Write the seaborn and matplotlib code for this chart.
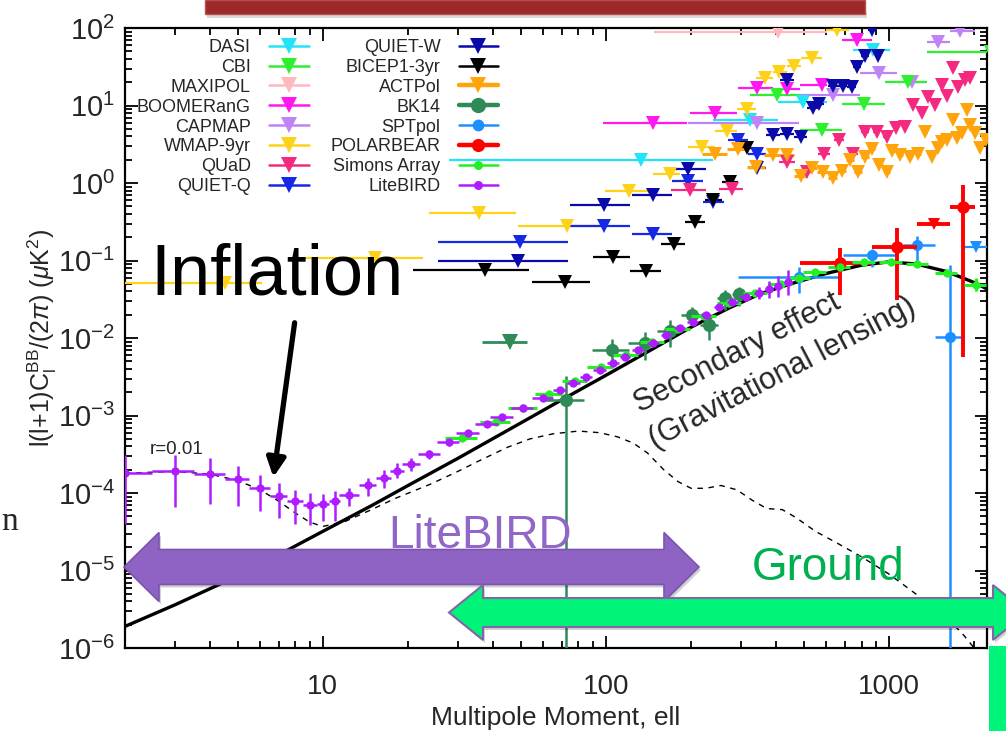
import numpy as np
import pandas as pd
import matplotlib
matplotlib.use("Agg")
import matplotlib.pyplot as plt
import seaborn as sns
from matplotlib.patches import Polygon, Rectangle, FancyArrowPatch
from matplotlib.lines import Line2D
from matplotlib.ticker import FixedLocator, FixedFormatter, NullFormatter, LogLocator, LogFormatterMathtext

# ---------------- data ----------------
# theory: lensing B-mode (solid) and primordial r=0.01 (dashed)
lens_ell = [2, 3, 5, 7, 10, 15, 20, 30, 50, 70, 100, 150, 200, 270, 350, 450, 600, 800, 1000, 1250, 1600, 2000, 2220]
lens_val = [1.9e-6, 3.6e-6, 8.5e-6, 1.6e-5, 3.2e-5, 7.0e-5, 1.25e-4, 2.8e-4, 8e-4, 1.6e-3, 3.3e-3, 7.6e-3,
            1.38e-2, 2.4e-2, 3.7e-2, 5.0e-2, 6.8e-2, 8.7e-2, 9.6e-2, 9.0e-2, 7.2e-2, 5.2e-2, 4.3e-2]
tens_ell = [2, 3, 4, 5, 6, 7, 8, 9, 10, 12, 15, 18, 24, 30, 36, 45, 54, 65, 80, 95, 110, 125, 140, 160, 180,
            200, 225, 255, 290, 330, 370, 420, 470, 550, 650, 800, 1000, 1200, 1500, 1800, 2000, 2220]
tens_val = [1.8e-4, 1.9e-4, 1.75e-4, 1.45e-4, 1.1e-4, 7.8e-5, 5.5e-5, 4.2e-5, 3.7e-5, 4.3e-5, 6.2e-5, 8.5e-5,
            1.3e-4, 1.9e-4, 2.65e-4, 3.9e-4, 5.0e-4, 5.8e-4, 6.3e-4, 6.0e-4, 5.3e-4, 4.4e-4, 3.3e-4, 2.0e-4,
            1.4e-4, 1.15e-4, 1.15e-4, 1.25e-4, 1.1e-4, 8e-5, 6.3e-5, 6.1e-5, 4.8e-5, 3.2e-5, 2.3e-5, 1.5e-5,
            9e-6, 5.5e-6, 3.0e-6, 1.6e-6, 1.0e-6, 7e-7]

# upper limits: ell, value, bin low, bin high
dasi_ell = [133, 323, 495, 879]
dasi_val = [2.0, 6.5, 11.2, 52]
dasi_lo = [28, 239, 406, 746]
dasi_hi = [239, 406, 604, 1007]

cbi_ell = [401, 578, 816, 1170, 2300]
cbi_val = [13.6, 4.9, 10.4, 20.3, 49]
cbi_lo = [323, 485, 683, 968, 1361]
cbi_hi = [485, 683, 968, 1361, 3500]

maxipol_ell = [405]
maxipol_val = [90]
maxipol_lo = [148]
maxipol_hi = [604]

boom_ell = [147, 243, 341, 435, 578, 774]
boom_val = [6.0, 7.9, 16.7, 16.2, 18.4, 71]
boom_lo = [98, 198, 292, 389, 485, 683]
boom_hi = [193, 290, 389, 485, 604, 871]

capmap_ell = [341, 632, 925, 1202, 1493, 1782]
capmap_val = [5.9, 13.6, 26, 20.3, 66.5, 92]
capmap_lo = [195, 485, 791, 1067, 1361, 1643]
capmap_hi = [482, 791, 1067, 1340, 1643, 2013]

wmap_ell = [4.5, 15.3, 35.7, 72.6, 121, 169, 218, 267, 314, 365, 409, 461, 533, 653]
wmap_val = [0.051, 0.107, 0.41, 0.28, 0.80, 1.31, 2.9, 4.7, 9.0, 22.4, 27.3, 32.6, 41.4, 94]
wmap_lo = [2, 8.3, 23.7, 48.9, 99, 147, 195, 243, 290, 340, 388, 438, 490, 600]
wmap_hi = [6.1, 22.5, 48, 95, 143, 182, 243, 290, 340, 388, 438, 490, 580, 720]

quad_ell = [198, 278, 438, 512, 589, 667, 748, 822, 905, 982, 1060, 1140, 1218, 1305, 1378, 1452, 1534,
            1599, 1688, 1758, 1857, 1933]
quad_val = [0.81, 0.84, 1.88, 1.40, 2.4, 3.6, 2.4, 4.6, 4.6, 3.95, 5.1, 5.3, 10.1, 7.9, 13, 10.1, 18.4,
            13.2, 30.8, 17.5, 21.3, 22.4]
quad_dl = 28

quietq_ell = [49.7, 98.4, 147, 195, 239, 293, 341]
quietq_val = [0.175, 0.28, 0.22, 1.06, 0.574, 3.6, 2.4]
quietq_lo = [25.5, 74.6, 124, 171, 220, 270, 318]
quietq_hi = [73.5, 121.6, 171, 220, 262, 318, 368]

quietw_ell = [49, 98.4, 147, 195, 341, 388, 438, 438, 488, 537, 566, 635, 686, 738, 774, 822, 869, 916]
quietw_val = [0.10, 0.52, 0.70, 1.5, 1.55, 4.2, 4.3, 21.3, 3.95, 9.2, 10.4, 17.9, 17.9, 17.2, 31.7, 43.5, 94, 43.5]
quietw_lo = [25.5, 74.6, 124, 171, 318, 368, 413, 413, 463, 512, 541, 610, 661, 713, 749, 797, 844, 891]
quietw_hi = [73.5, 121.6, 171, 225, 368, 413, 463, 463, 513, 562, 591, 660, 711, 763, 799, 847, 894, 941]

bicep_ell = [37.3, 71.6, 105.6, 139, 174, 206, 239, 274, 314]
bicep_val = [0.075, 0.053, 0.112, 0.074, 0.163, 0.317, 0.60, 1.04, 2.8]
bicep_lo = [20.8, 55, 90, 122, 156, 191, 224, 258, 295]
bicep_hi = [53.5, 88, 122, 156, 191, 224, 258, 293, 330]

act_ell = [243, 293, 339, 388, 438, 488, 533, 583, 632, 681, 728, 779, 822, 869, 925, 982, 1023, 1093, 1186,
           1269, 1341, 1416, 1493, 1534, 1599, 1688, 1735, 1806, 1884, 1933, 2014, 2099, 2200]
act_val = [2.4, 2.75, 1.62, 2.3, 2.3, 1.24, 1.55, 1.37, 1.15, 1.43, 1.98, 1.40, 2.18, 2.75, 1.71, 1.40, 2.59,
           2.3, 2.18, 2.4, 4.6, 2.18, 2.8, 3.4, 3.6, 6.5, 3.8, 4.4, 8.8, 5.6, 4.4, 2.8, 3.6]
act_dl = 25

bk_ul_ell = [45.8]
bk_ul_val = [0.009]
bk_ul_lo = [36.4]
bk_ul_hi = [52.5]

spt_ul_ell = [2023]
spt_ul_val = [0.15]
spt_ul_lo = [1810]
spt_ul_hi = [2400]

pb_ul_ell = [1445]
pb_ul_val = [0.296]
pb_ul_lo = [1256]
pb_ul_hi = [1643]

# detections: ell, value, y low bound, y high bound, bin low, bin high
bk_ell = [72, 105, 137, 169, 201, 232, 263, 295]
bk_val = [1.6e-3, 6.9e-3, 8.5e-3, 1.24e-2, 2.0e-2, 1.47e-2, 3.25e-2, 3.7e-2]
bk_ylo = [1e-8, 4.5e-3, 5.2e-3, 7.7e-3, 1.5e-2, 9.4e-3, 2.3e-2, 2.6e-2]
bk_yhi = [3.2e-3, 9.7e-3, 1.2e-2, 1.7e-2, 2.5e-2, 1.98e-2, 4.2e-2, 4.6e-2]
bk_lo = [61, 89, 120, 152, 184, 215, 246, 278]
bk_hi = [84, 121, 154, 186, 218, 249, 280, 312]

spt_ell = [482, 869, 1253, 1643]
spt_val = [0.061, 0.118, 0.158, 0.0104]
spt_ylo = [0.038, 0.083, 0.10, 1e-8]
spt_yhi = [0.082, 0.14, 0.21, 0.087]
spt_lo = [292, 687, 1120, 1455]
spt_hi = [671, 1067, 1455, 1810]

pb_ell = [671, 1065, 1832]
pb_val = [0.092, 0.148, 0.485]
pb_ylo = [0.036, 0.031, 0.0057]
pb_yhi = [0.145, 0.26, 0.94]
pb_lo = [485, 871, 1643]
pb_hi = [871, 1256, 2013]

sa_ell = [31, 41, 51, 63, 78, 96, 118, 146, 180, 222, 273, 337, 415, 482, 548, 671, 816, 1014, 1259, 1600, 2028]
sa_val = [5.2e-4, 8.3e-4, 1.24e-3, 1.9e-3, 2.8e-3, 4.2e-3, 6.0e-3, 8.8e-3, 1.3e-2, 1.9e-2, 2.8e-2, 3.8e-2,
          5.0e-2, 5.9e-2, 7.2e-2, 8.3e-2, 9.6e-2, 9.7e-2, 8.9e-2, 7.0e-2, 4.8e-2]
sa_ylo = [4.8e-4, 7.8e-4, 1.18e-3, 1.82e-3, 2.7e-3, 4.05e-3, 5.8e-3, 8.5e-3, 1.25e-2, 1.83e-2, 2.7e-2, 3.65e-2,
          4.8e-2, 5.6e-2, 6.8e-2, 7.9e-2, 9.1e-2, 9.2e-2, 8.4e-2, 6.5e-2, 4.0e-2]
sa_yhi = [5.6e-4, 8.8e-4, 1.3e-3, 1.98e-3, 2.9e-3, 4.35e-3, 6.2e-3, 9.1e-3, 1.35e-2, 1.97e-2, 2.9e-2, 3.95e-2,
          5.2e-2, 6.2e-2, 7.6e-2, 8.7e-2, 1.01e-1, 1.02e-1, 9.4e-2, 7.6e-2, 5.9e-2]
sa_dl = [4, 5, 6, 7, 8, 10, 12, 14, 18, 22, 27, 33, 40, 45, 50, 60, 75, 95, 115, 140, 180]

lb_ell = [2, 3, 4, 5, 6, 7, 8, 9, 10, 11, 12.4, 14.4, 16.4, 18.3, 20.5, 23.8, 27.8, 32.6, 38, 43, 50.8, 60,
          68.7, 76.7, 85, 95, 106, 117, 130, 147, 163, 182, 203, 226, 251, 280, 312, 348, 378, 404, 439]
lb_val = [1.8e-4, 1.9e-4, 1.77e-4, 1.5e-4, 1.17e-4, 9.2e-5, 7.8e-5, 7.0e-5, 7.2e-5, 7.8e-5, 9.5e-5, 1.26e-4,
          1.55e-4, 1.95e-4, 2.35e-4, 3.15e-4, 4.5e-4, 5.9e-4, 7.7e-4, 9.6e-4, 1.26e-3, 1.68e-3, 2.15e-3,
          2.65e-3, 3.16e-3, 3.86e-3, 4.7e-3, 5.7e-3, 7.1e-3, 8.7e-3, 1.09e-2, 1.33e-2, 1.62e-2, 1.98e-2,
          2.49e-2, 2.94e-2, 3.41e-2, 3.85e-2, 4.25e-2, 4.69e-2, 5.3e-2]
lb_ylo = [4.0e-5, 6.5e-5, 7.2e-5, 6.8e-5, 5.9e-5, 4.8e-5, 4.0e-5, 3.9e-5, 4.4e-5, 4.4e-5, 6.8e-5, 9.2e-5,
          1.17e-4, 1.58e-4, 1.9e-4, 2.75e-4, 4.0e-4, 5.4e-4, 7.1e-4, 9.0e-4, 1.18e-3, 1.6e-3, 2.05e-3,
          2.55e-3, 3.05e-3, 3.75e-3, 4.55e-3, 5.5e-3, 6.9e-3, 8.4e-3, 1.05e-2, 1.28e-2, 1.55e-2, 1.88e-2,
          2.35e-2, 2.7e-2, 3.0e-2, 3.2e-2, 3.3e-2, 3.4e-2, 3.6e-2]
lb_yhi = [3.1e-4, 3.1e-4, 2.8e-4, 2.2e-4, 1.7e-4, 1.36e-4, 1.1e-4, 1.01e-4, 9.8e-5, 1.06e-4, 1.17e-4, 1.58e-4,
          2.0e-4, 2.45e-4, 2.8e-4, 3.55e-4, 5.0e-4, 6.4e-4, 8.3e-4, 1.02e-3, 1.34e-3, 1.76e-3, 2.25e-3,
          2.75e-3, 3.27e-3, 3.97e-3, 4.85e-3, 5.9e-3, 7.3e-3, 9.0e-3, 1.13e-2, 1.38e-2, 1.69e-2, 2.08e-2,
          2.63e-2, 3.2e-2, 3.85e-2, 4.6e-2, 5.4e-2, 6.3e-2, 7.6e-2]
lb_dl = [0.5, 0.5, 0.5, 0.5, 0.5, 0.5, 0.5, 0.5, 0.5, 0.5, 1, 1, 1, 1, 1.5, 2.2, 2.5, 3, 3.5, 4, 4.5, 5,
         3.5, 4, 4, 5, 5, 5, 6, 7, 7, 8, 9, 10, 11, 12, 14, 15, 12, 12, 14]

legend_labels = ["DASI", "CBI", "MAXIPOL", "BOOMERanG", "CAPMAP", "WMAP-9yr", "QUaD", "QUIET-Q",
                 "QUIET-W", "BICEP1-3yr", "ACTPol", "BK14", "SPTpol", "POLARBEAR", "Simons Array", "LiteBIRD"]

# ---------------- style ----------------
sns.set_theme(style="ticks")
plt.rcParams["font.family"] = ["Liberation Sans", "DejaVu Sans"]
plt.rcParams["mathtext.fontset"] = "custom"
plt.rcParams["mathtext.rm"] = "Liberation Sans"
plt.rcParams["mathtext.it"] = "Liberation Sans:italic"
plt.rcParams["mathtext.bf"] = "Liberation Sans:bold"

COL = {
    "DASI": "#22e4f6", "CBI": "#2ef02e", "MAXIPOL": "#ffb8bc", "BOOMERanG": "#ff18f0", "CAPMAP": "#c083f5",
    "WMAP-9yr": "#ffd21a", "QUaD": "#f5297f", "QUIET-Q": "#1428e6", "QUIET-W": "#0a0aa8", "BICEP1-3yr": "#000000",
    "ACTPol": "#ffa40a", "BK14": "#2e8b57", "SPTpol": "#1e8fff", "POLARBEAR": "#ff0000",
    "Simons Array": "#22f022", "LiteBIRD": "#ae1cff",
}

W, H = 1006, 731
fig = plt.figure(figsize=(W / 100, H / 100), dpi=100)
fig.patch.set_facecolor("white")
ax = fig.add_axes([125 / W, 1 - 648 / H, 862 / W, 620 / H])
ax.set_facecolor("white")


def ul(ell, val, lo, hi, name, lw=1.6, ms=9.5, z=3):
    ell = np.asarray(ell, float)
    ax.errorbar(ell, val, xerr=[ell - np.asarray(lo), np.asarray(hi) - ell], fmt="v", color=COL[name],
                ms=ms, lw=lw, capsize=0, mew=0, zorder=z)


def ulw(ell, val, dl, name, lw=1.6, ms=9.5, z=3):
    ell = np.asarray(ell, float)
    ax.errorbar(ell, val, xerr=dl, fmt="v", color=COL[name], ms=ms, lw=lw, capsize=0, mew=0, zorder=z)


def det(ell, val, ylo, yhi, lo, hi, name, ms, lw, z):
    ell = np.asarray(ell, float)
    val = np.asarray(val, float)
    ax.errorbar(ell, val, xerr=[ell - np.asarray(lo), np.asarray(hi) - ell],
                yerr=[val - np.asarray(ylo), np.asarray(yhi) - val], fmt="o", color=COL[name],
                ms=ms, lw=lw, capsize=0, mew=0, zorder=z)


ul(maxipol_ell, maxipol_val, maxipol_lo, maxipol_hi, "MAXIPOL")
ul(dasi_ell, dasi_val, dasi_lo, dasi_hi, "DASI")
ul(wmap_ell, wmap_val, wmap_lo, wmap_hi, "WMAP-9yr")
ul(capmap_ell, capmap_val, capmap_lo, capmap_hi, "CAPMAP")
ul(boom_ell, boom_val, boom_lo, boom_hi, "BOOMERanG")
ul(cbi_ell, cbi_val, cbi_lo, cbi_hi, "CBI")
ul(quietq_ell, quietq_val, quietq_lo, quietq_hi, "QUIET-Q")
ul(quietw_ell, quietw_val, quietw_lo, quietw_hi, "QUIET-W")
ul(bicep_ell, bicep_val, bicep_lo, bicep_hi, "BICEP1-3yr")
ulw(quad_ell, quad_val, quad_dl, "QUaD")
ulw(act_ell, act_val, act_dl, "ACTPol", lw=2.2)
ul(bk_ul_ell, bk_ul_val, bk_ul_lo, bk_ul_hi, "BK14", lw=2.0, ms=11)
ul(spt_ul_ell, spt_ul_val, spt_ul_lo, spt_ul_hi, "SPTpol", lw=1.6, ms=9)
ul(pb_ul_ell, pb_ul_val, pb_ul_lo, pb_ul_hi, "POLARBEAR", lw=2.8, ms=9)

# theory curves through seaborn
lens_df = pd.DataFrame({"ell": lens_ell, "cl": lens_val})
tens_df = pd.DataFrame({"ell": tens_ell, "cl": tens_val})
sns.lineplot(data=tens_df, x="ell", y="cl", ax=ax, color="black", lw=1.0, linestyle=(0, (4, 4)),
             estimator=None, sort=False, zorder=4)
sns.lineplot(data=lens_df, x="ell", y="cl", ax=ax, color="black", lw=2.4, estimator=None, sort=False, zorder=4)

det(bk_ell, bk_val, bk_ylo, bk_yhi, bk_lo, bk_hi, "BK14", 9.5, 1.8, 5)
det(spt_ell, spt_val, spt_ylo, spt_yhi, spt_lo, spt_hi, "SPTpol", 8, 1.8, 5)
det(pb_ell, pb_val, pb_ylo, pb_yhi, pb_lo, pb_hi, "POLARBEAR", 9, 2.8, 6)

sa_e = np.asarray(sa_ell, float)
sa_v = np.asarray(sa_val, float)
ax.errorbar(sa_e, sa_v, xerr=sa_dl, yerr=[sa_v - np.asarray(sa_ylo), np.asarray(sa_yhi) - sa_v], fmt="o",
            color=COL["Simons Array"], ms=6, lw=2.2, capsize=0, mew=0, zorder=6)
lb_e = np.asarray(lb_ell, float)
lb_v = np.asarray(lb_val, float)
ax.errorbar(lb_e, lb_v, xerr=lb_dl, yerr=[lb_v - np.asarray(lb_ylo), np.asarray(lb_yhi) - lb_v], fmt="o",
            color=COL["LiteBIRD"], ms=6, lw=1.8, capsize=0, mew=0, zorder=7)

# axes
ax.set_xscale("log")
ax.set_yscale("log")
ax.set_xlim(2, 2220)
ax.set_ylim(1e-6, 1e2)
ax.xaxis.set_major_locator(FixedLocator([10, 100, 1000]))
ax.xaxis.set_major_formatter(FixedFormatter(["10", "100", "1000"]))
ax.xaxis.set_minor_locator(LogLocator(base=10, subs=np.arange(2, 10), numticks=20))
ax.xaxis.set_minor_formatter(NullFormatter())
ax.yaxis.set_major_locator(FixedLocator([1e-6, 1e-5, 1e-4, 1e-3, 1e-2, 1e-1, 1e0, 1e1, 1e2]))
ax.yaxis.set_major_formatter(LogFormatterMathtext())
ax.yaxis.set_minor_locator(LogLocator(base=10, subs=np.arange(2, 10), numticks=20))
ax.yaxis.set_minor_formatter(NullFormatter())
ax.tick_params(which="both", direction="in", top=True, right=True, color="black", width=1.3)
ax.tick_params(which="major", length=9)
ax.tick_params(which="minor", length=5)
ax.tick_params(axis="x", which="major", labelsize=20, pad=19)
ax.tick_params(axis="y", which="major", labelsize=21, pad=7)
for s in ax.spines.values():
    s.set_color("black")
    s.set_linewidth(1.6)
ax.set_xlabel("Multipole Moment, ell", fontsize=19, labelpad=4)
ax.set_ylabel(r"l(l+1)C$_\mathregular{l}^\mathregular{BB}$/(2$\pi$) ($\mu$K$^\mathregular{2}$)", fontsize=18,
              labelpad=-1)

# legend
handles = []
for name in legend_labels:
    if name in ("BK14", "SPTpol", "POLARBEAR"):
        mk, ms = "o", {"BK14": 11, "SPTpol": 8.5, "POLARBEAR": 9.5}[name]
    elif name in ("Simons Array", "LiteBIRD"):
        mk, ms = "o", 6.5
    else:
        mk, ms = "v", 11
    lw = 3.2 if name in ("ACTPol", "BK14", "POLARBEAR") else 1.8
    handles.append(Line2D([0], [0], color=COL[name], lw=lw, marker=mk, ms=ms, mew=0))
leg = ax.legend(handles, legend_labels, ncol=2, markerfirst=False, frameon=False, fontsize=13,
                loc="upper left", bbox_to_anchor=(12 / 862, 1 - 11 / 620), handlelength=2.2,
                handletextpad=1.0, columnspacing=1.2, labelspacing=0.16, borderpad=0, borderaxespad=0)


def P(x, y):
    return (x / W, 1 - y / H)


fig.text(*P(150, 449), "r=0.01", fontsize=13.5, va="center", ha="left")

# annotations
fig.text(*P(277, 276), "Inflation", fontsize=52, ha="center", va="center", color="black")
fig.add_artist(FancyArrowPatch(P(295, 320), P(273, 480), transform=fig.transFigure, arrowstyle="-|>",
                               mutation_scale=28, lw=3.8, color="black"))
fig.text(*P(737, 353), "Secondary effect", fontsize=22, rotation=27.5, ha="center", va="center",
         rotation_mode="anchor")
fig.text(*P(782, 373), "(Gravitational lensing)", fontsize=22, rotation=27.5, ha="center", va="center",
         rotation_mode="anchor")


def dbl_arrow(x0, x1, yc, sh, hh, hl, fc, ec, lw):
    pts = [(x0, yc), (x0 + hl, yc - hh), (x0 + hl, yc - sh), (x1 - hl, yc - sh), (x1 - hl, yc - hh),
           (x1, yc), (x1 - hl, yc + hh), (x1 - hl, yc + sh), (x0 + hl, yc + sh), (x0 + hl, yc + hh)]
    shadow = Polygon([P(x + 2, y + 3) for x, y in pts], closed=True, transform=fig.transFigure,
                     facecolor="#000000", alpha=0.18, edgecolor="none")
    fig.add_artist(shadow)
    fig.add_artist(Polygon([P(x, y) for x, y in pts], closed=True, transform=fig.transFigure,
                           facecolor=fc, edgecolor=ec, lw=lw))


dbl_arrow(124, 699, 567, 17.5, 34.5, 35, "#8e63c4", "#7a55ae", 1.2)
fig.text(*P(480, 536), "LiteBIRD", fontsize=33, ha="center", va="center", color="#9066c8")
dbl_arrow(449, 1027, 612.5, 14.5, 27.5, 34, "#00f47a", "#8466a6", 1.5)
fig.text(*P(828, 568), "Ground", fontsize=33, ha="center", va="center", color="#00b050")

# slide decorations
fig.add_artist(Rectangle(P(207, 18), 660 / W, 6 / H, transform=fig.transFigure, facecolor="#000000",
                         alpha=0.15, edgecolor="none"))
fig.add_artist(Rectangle(P(205, 14), 660 / W, 14 / H, transform=fig.transFigure, facecolor="#9c2a2a",
                         edgecolor="#b85050", lw=1))
fig.add_artist(Rectangle(P(989, 731), 17 / W, 85 / H, transform=fig.transFigure, facecolor="#00f47a",
                         edgecolor="none"))
fig.text(*P(1, 522), "n", fontsize=24, family=["Liberation Serif", "DejaVu Serif"], ha="left", va="center")

fig.savefig("out.png", dpi=100)
